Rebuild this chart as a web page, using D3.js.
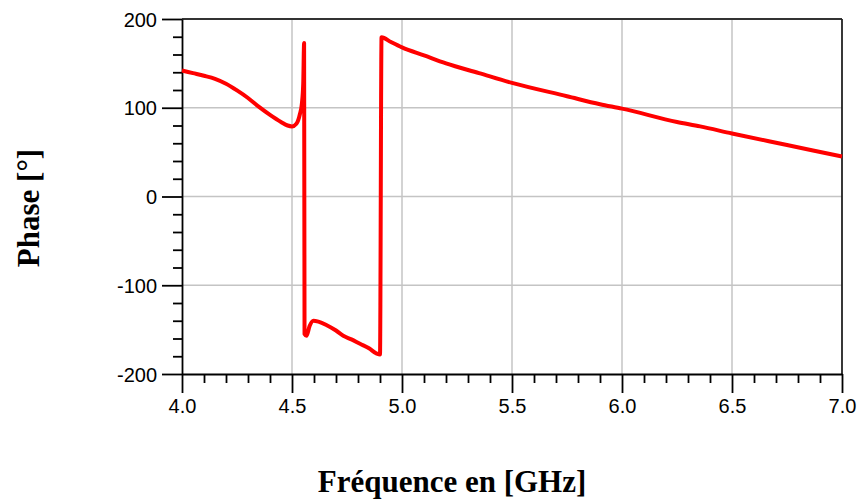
<!DOCTYPE html>
<html>
<head>
<meta charset="utf-8">
<script src="https://cdn.jsdelivr.net/npm/d3@7"></script>
<style>
  html, body { margin: 0; padding: 0; background: #fff; }
  svg { display: block; }
</style>
</head>
<body>
<svg id="chart" width="857" height="501"></svg>
<script>
// ---- data ----
const freqGHz = [4.00, 4.05, 4.10, 4.15, 4.20, 4.25, 4.30, 4.35, 4.40, 4.45, 4.48, 4.50, 4.52, 4.536, 4.545, 4.551, 4.555,
                 4.557, 4.566, 4.580, 4.597, 4.62, 4.658, 4.70, 4.733, 4.77, 4.809, 4.85, 4.885, 4.900,
                 4.907, 4.95, 5.00, 5.10, 5.20, 5.35, 5.50, 5.75, 5.90, 6.00, 6.25, 6.355, 6.50, 6.75, 7.00];
const phaseDeg = [142, 139, 136, 132.5, 127, 119.5, 111, 101, 92, 84, 80, 79, 82, 93, 105, 127, 173,
                  -155, -157, -146, -140, -141, -145, -151, -157, -161, -166, -171, -177, -178,
                  179.5, 174, 168, 159, 150, 139, 128, 113, 104, 99, 84, 79, 71, 58, 45];
const xMajorTicks = [4.0, 4.5, 5.0, 5.5, 6.0, 6.5, 7.0];
const yMajorTicks = [-200, -100, 0, 100, 200];
const xTitle = "Fréquence en [GHz]";
const yTitle = "Phase [°]";

// ---- layout ----
const svg = d3.select("#chart");
const L = 182, R = 842, T = 19, B = 374;
const x = d3.scaleLinear().domain([4.0, 7.0]).range([L, R]);
const y = d3.scaleLinear().domain([-200, 200]).range([B, T]);

const xMinor = d3.range(40, 71).map(d => d / 10).filter(d => !xMajorTicks.some(m => Math.abs(m - d) < 1e-9));
const yMinor = d3.range(-200, 201, 20).filter(d => !yMajorTicks.includes(d));

// grid
const grid = svg.append("g").attr("stroke", "#c4c4c4").attr("stroke-width", 1.5);
grid.selectAll("line.gx").data(xMajorTicks.filter(d => d > 4.0 && d < 7.0)).join("line")
  .attr("x1", d => x(d)).attr("x2", d => x(d)).attr("y1", T).attr("y2", B);
grid.selectAll("line.gy").data(yMajorTicks.filter(d => d > -200 && d < 200)).join("line")
  .attr("y1", d => y(d)).attr("y2", d => y(d)).attr("x1", L).attr("x2", R);

// frame top/right
svg.append("line").attr("x1", L).attr("x2", R).attr("y1", T).attr("y2", T)
  .attr("stroke", "#333").attr("stroke-width", 2);
svg.append("line").attr("x1", R).attr("x2", R).attr("y1", T).attr("y2", B)
  .attr("stroke", "#222").attr("stroke-width", 1.8);

// axes
const fontTick = "'Liberation Sans', Arial, sans-serif";
const xAxis = svg.append("g").attr("transform", `translate(0,${B})`)
  .call(d3.axisBottom(x).tickValues(xMajorTicks).tickSize(19).tickSizeOuter(0).tickFormat(d3.format(".1f")));
svg.append("g").attr("transform", `translate(0,${B})`)
  .call(d3.axisBottom(x).tickValues(xMinor).tickSize(9).tickSizeOuter(0).tickFormat(""))
  .call(g => g.select(".domain").remove());
const yAxis = svg.append("g").attr("transform", `translate(${L},0)`)
  .call(d3.axisLeft(y).tickValues(yMajorTicks).tickSize(20).tickSizeOuter(0).tickFormat(d => d));
svg.append("g").attr("transform", `translate(${L},0)`)
  .call(d3.axisLeft(y).tickValues(yMinor).tickSize(9).tickSizeOuter(0).tickFormat(""))
  .call(g => g.select(".domain").remove());

svg.selectAll(".domain, .tick line").attr("stroke", "#000").attr("stroke-width", 1.8);
xAxis.selectAll("text").attr("font-family", fontTick).attr("font-size", 20).attr("fill", "#000")
  .attr("y", 25).attr("dy", "0.71em");
yAxis.selectAll("text").attr("font-family", fontTick).attr("font-size", 20).attr("fill", "#000")
  .attr("x", -25).attr("dy", "0.35em");

// line
const line = d3.line().x((d, i) => x(freqGHz[i])).y(d => y(d)).curve(d3.curveMonotoneX);
svg.append("path").datum(phaseDeg)
  .attr("d", line)
  .attr("fill", "none")
  .attr("stroke", "#ff0000")
  .attr("stroke-width", 4)
  .attr("stroke-linejoin", "round");

// titles
const fontTitle = "'Liberation Serif', 'Times New Roman', serif";
svg.append("text").text(xTitle)
  .attr("x", 452).attr("y", 492)
  .attr("text-anchor", "middle")
  .attr("font-family", fontTitle).attr("font-weight", "bold").attr("font-size", 31);
svg.append("text").text(yTitle)
  .attr("transform", "translate(39,208) rotate(-90)")
  .attr("text-anchor", "middle")
  .attr("font-family", fontTitle).attr("font-weight", "bold").attr("font-size", 31);
</script>
</body>
</html>
